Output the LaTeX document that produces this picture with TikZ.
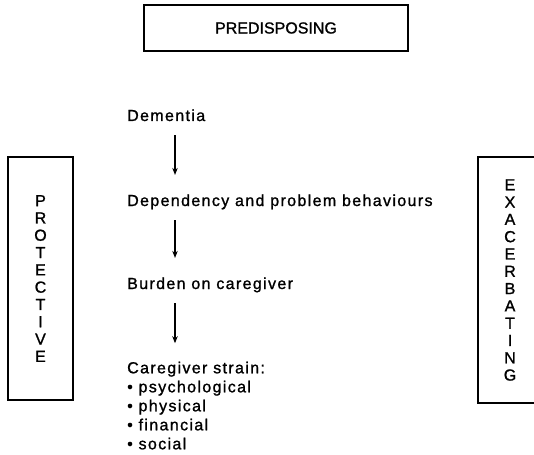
\documentclass[tikz,border=0pt]{standalone}
\usepackage{fontspec}
\setmainfont[FakeBold=1.2]{Liberation Sans}
\newfontfamily\spacedfont[LetterSpace=8.5,FakeBold=1.2]{Liberation Sans}
\usetikzlibrary{arrows.meta,positioning}

\begin{document}
\begin{tikzpicture}[
  x=1pt, y=-1pt,
  factor/.style={draw, line width=1.3pt, inner sep=0pt, align=center,
                 font=\fontsize{16}{17.3}\selectfont},
  stage/.style={anchor=base west, inner sep=0pt, align=left,
                font=\spacedfont\fontsize{16}{19}\selectfont},
  arrow/.style={-{Stealth[length=7pt,width=5.5pt]}, line width=1.1pt}
]
\useasboundingbox (0,0) rectangle (534,454);
% the three factor boxes
\node[factor, minimum width=264pt, minimum height=46pt] (predisposing) at (276,28) {PREDISPOSING};
\node[factor, minimum width=65pt, minimum height=243pt] (protective) at (40.5,278.5)
  {P\\R\\O\\T\\E\\C\\T\\I\\V\\E};
\node[factor, minimum width=64pt, minimum height=246pt] (exacerbating) at (510,280)
  {E\\X\\A\\C\\E\\R\\B\\A\\T\\I\\N\\G};
% the chain in the middle
\node[stage] (dementia) at (127,121) {Dementia};
\node[stage] (dependency) at (127,206) {Dependency and problem behaviours};
\node[stage] (burden) at (127,289) {Burden on caregiver};
\node[stage, anchor=north west] (strain) at (127,361.5) {Caregiver strain:\\
  \textbullet\ psychological\\ \textbullet\ physical\\ \textbullet\ financial\\ \textbullet\ social};
\draw[arrow] ([xshift=48pt,yshift=-14pt]dementia.south west) -- ([xshift=48pt,yshift=19.3pt]dependency.north west);
\draw[arrow] ([xshift=48pt,yshift=-10.6pt]dependency.south west) -- ([xshift=48pt,yshift=19.3pt]burden.north west);
\draw[arrow] ([xshift=48pt,yshift=-10.6pt]burden.south west) -- ([xshift=48pt,yshift=18.3pt]strain.north west);
\end{tikzpicture}
\end{document}
